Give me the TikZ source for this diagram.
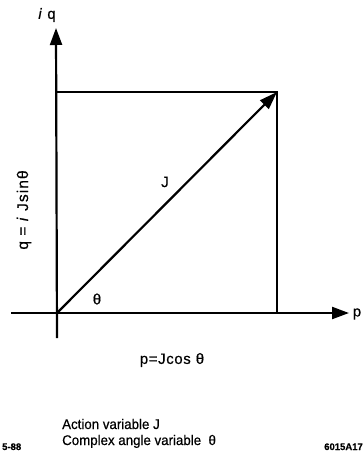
\documentclass[tikz,border=0pt]{standalone}
\usepackage{fontspec}
\setmainfont{Liberation Sans}[FakeBold=0.5]
\newfontfamily\heavyfont{Liberation Sans}[FakeBold=0.5]
\usetikzlibrary{arrows.meta}
\begin{document}
\begin{tikzpicture}[x=1pt,y=-1pt,
  axis/.style={line width=2.2pt,-{Triangle[length=17pt,width=12pt]}},
  frame/.style={line width=1.3pt},
  vec/.style={line width=2.2pt,-{Triangle[length=18pt,width=12pt]}},
  lbl/.style={inner sep=0pt,font=\fontsize{15}{17}\selectfont\addfontfeature{LetterSpace=4}},
  qlbl/.style={inner sep=0pt,font=\fontsize{15.5}{17}\selectfont\addfontfeature{LetterSpace=7}},
  captext/.style={inner sep=0pt,anchor=base west,xscale=0.95,font=\fontsize{14}{16}\selectfont},
  tinytext/.style={inner sep=0pt,font=\bfseries\fontsize{9.5}{11}\selectfont}]
\useasboundingbox (0,0) rectangle (364,458);
\coordinate (O) at (57,313);
\coordinate (Xs) at (11,313);
\coordinate (Xe) at (349,313);
\coordinate (Ys) at (57,338);
\coordinate (Ye) at (56,28);
\coordinate (Q) at (57,92);
\coordinate (T) at (277,92);
\coordinate (P) at (277,313);
\draw[frame] (Q) -- (T) -- (P);
\draw[axis] (Xs) -- (Xe);
\draw[axis] (Ys) -- (Ye);
\draw[vec] (O) -- (T);
\node[lbl] (pl) at (357,314) {p};
\node[lbl] (ql) at (47,15) {\textit{i} q};
\node[lbl] (J) at (165,182) {J};
\node[lbl] (th) at (97,299) {θ};
\node[lbl] (pc) at (172,360) {p=Jcos\hspace{5pt}θ};
\node[qlbl,rotate=90] (qs) at (24,210) {q = \textit{i} Jsinθ};
\node[captext] (a1) at (62,429) {Action variable J};
\node[captext] (a2) at (62,445) {Complex angle variable\ \ θ};
\node[tinytext,anchor=base west] (d) at (2,450) {5-88};
\node[tinytext,anchor=base east] (n) at (363,450) {6015A17};
\end{tikzpicture}
\end{document}
